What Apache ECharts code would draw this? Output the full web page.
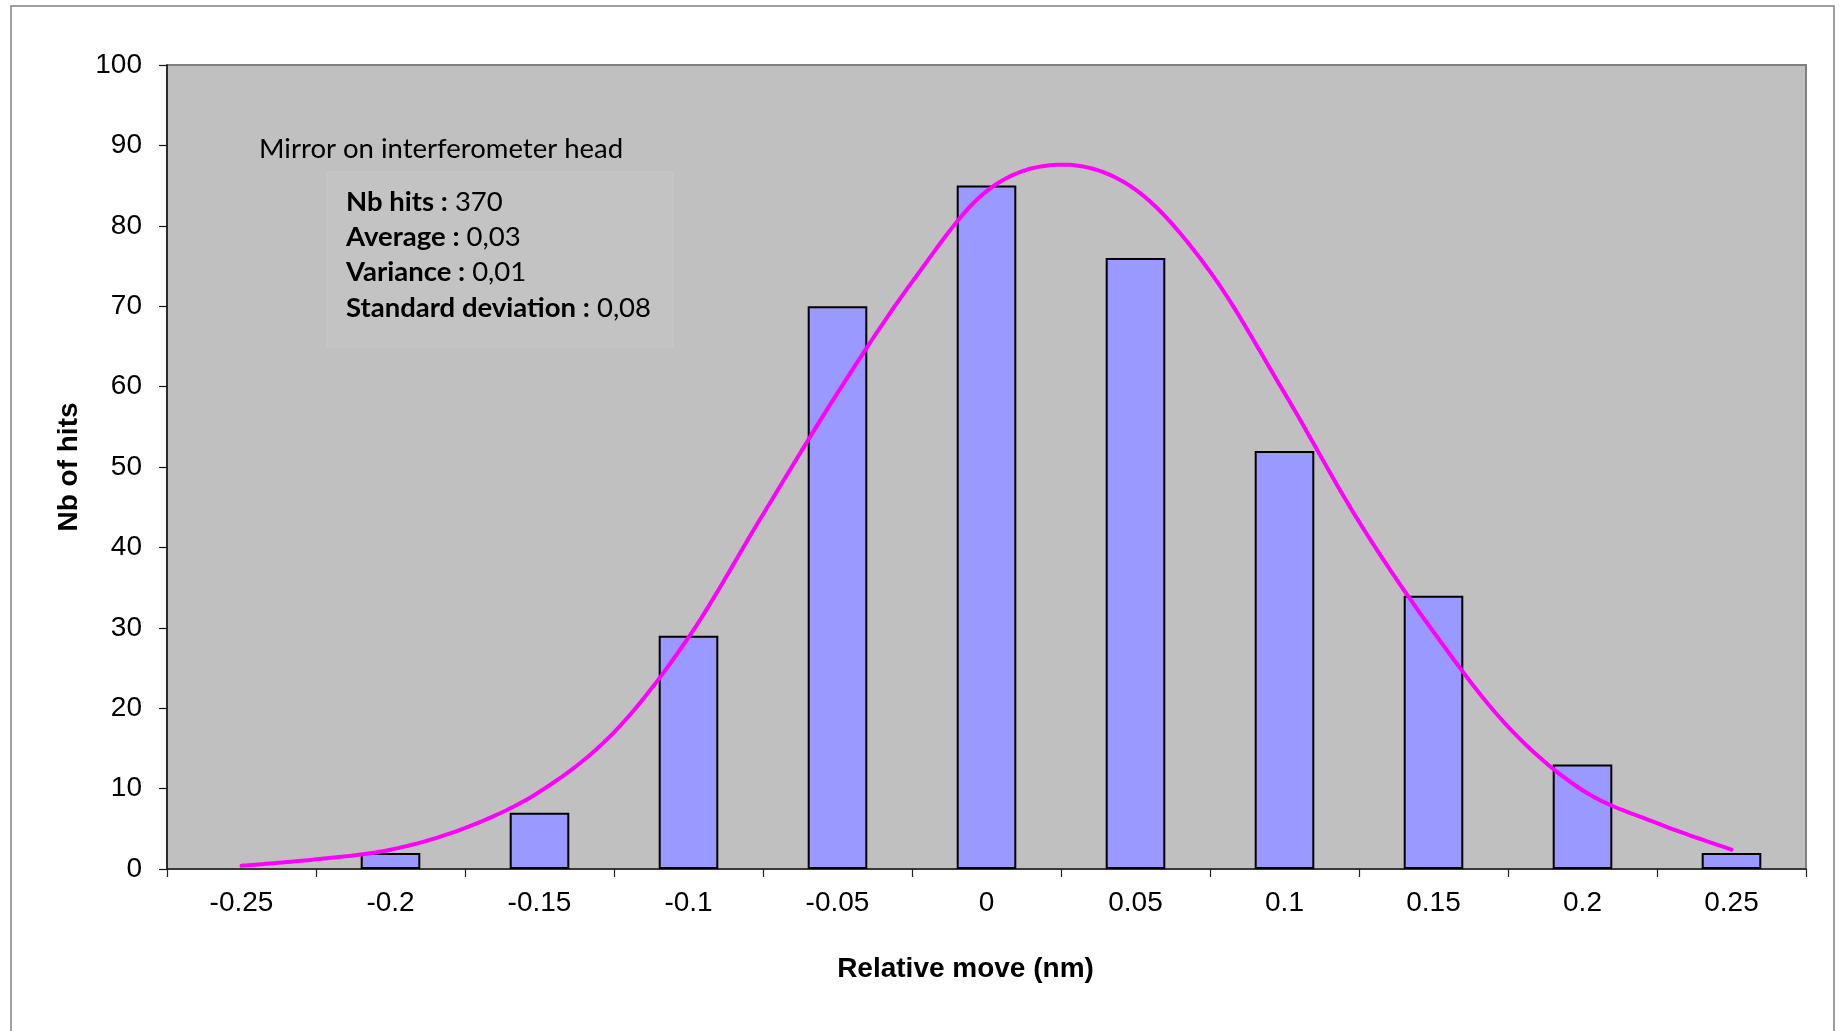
<!DOCTYPE html>
<html><head><meta charset="utf-8">
<script src="https://cdn.jsdelivr.net/npm/echarts@6/dist/echarts.min.js"></script>
<style>html,body{margin:0;padding:0;background:#fff}#c{width:1841px;height:1031px}</style>
</head><body><div id="c"></div>
<script>
// ---- data ----
const categories = ['-0.25','-0.2','-0.15','-0.1','-0.05','0','0.05','0.1','0.15','0.2','0.25'];
const hits = [null, 2, 7, 29, 70, 85, 76, 52, 34, 13, 2];
const curveX = [-0.25,-0.225,-0.2,-0.175,-0.15,-0.125,-0.1,-0.075,-0.05,-0.025,0,0.025,0.05,0.075,0.1,0.125,0.15,0.175,0.2,0.225,0.25];
const curveY = [0.4,1.2,2.4,5.1,9.6,17.0,28.8,44.1,59.2,73.0,84.3,87.6,84.5,74.3,59.2,43.2,29.5,17.7,9.8,5.7,2.4];
const yMin = 0, yMax = 100, yStep = 10;
const xName = 'Relative move (nm)';
const yName = 'Nb of hits';
const titleText = 'Mirror on interferometer head';
const statLabels = ['Nb hits :', 'Average :', 'Variance :', 'Standard deviation :'];
const statValues = ['370', '0,03', '0,01', '0,08'];

const axisFont = 'Liberation Sans, Arial, sans-serif';
const noteFont = 'Lato, Carlito, sans-serif';

const chart = echarts.init(document.getElementById('c'), null, {renderer: 'canvas'});
const curveData = curveX.map((x, i) => [x, curveY[i]]);

// smooth (Catmull-Rom style) curve through the read points, positioned via the axes
function renderCurve(params, api) {
  if (params.dataIndex !== 0) return null;
  const pts = curveData.map(d => api.coord(d));
  const n = pts.length, out = [];
  for (let i = 0; i < n - 1; i++) {
    const p0 = pts[Math.max(i - 1, 0)], p1 = pts[i], p2 = pts[i + 1], p3 = pts[Math.min(i + 2, n - 1)];
    const c1 = [p1[0] + (p2[0] - p0[0]) / 6, p1[1] + (p2[1] - p0[1]) / 6];
    const c2 = [p2[0] - (p3[0] - p1[0]) / 6, p2[1] - (p3[1] - p1[1]) / 6];
    const steps = 20;
    for (let s = 0; s < steps; s++) {
      const t = s / steps, u = 1 - t;
      const a = u * u * u, b = 3 * u * u * t, c = 3 * u * t * t, d = t * t * t;
      out.push([a * p1[0] + b * c1[0] + c * c2[0] + d * p2[0], a * p1[1] + b * c1[1] + c * c2[1] + d * p2[1]]);
    }
  }
  out.push(pts[n - 1]);
  return { type: 'polyline', shape: { points: out }, style: { stroke: '#FF00FF', lineWidth: 4, fill: null, lineCap: 'round', lineJoin: 'round' } };
}

const statGraphics = statLabels.map((lab, i) => ({
  type: 'text', x: 346, y: 202 + i * 35.3, z: 10,
  style: {
    text: '{b|' + lab + '} ' + statValues[i],
    fontFamily: noteFont, fontSize: 27.5, fill: '#000', verticalAlign: 'middle', align: 'left',
    rich: { b: { fontFamily: noteFont, fontSize: 27.5, fontWeight: 'bold', fill: '#000' } }
  }
}));

chart.setOption({
  animation: false,
  backgroundColor: '#ffffff',
  grid: { left: 167, right: 35, top: 65, bottom: 162, show: true, backgroundColor: '#C0C0C0', borderColor: '#808080', borderWidth: 2 },
  xAxis: [{
    type: 'category', data: categories, boundaryGap: true,
    name: xName, nameLocation: 'middle', nameGap: 86,
    nameTextStyle: { fontFamily: axisFont, fontSize: 28, fontWeight: 'bold', color: '#000', padding: [0, 42, 0, 0] },
    axisLine: { onZero: false, lineStyle: { color: '#222', width: 1.5 } },
    axisTick: { show: true, alignWithLabel: false, length: 8, lineStyle: { color: '#222', width: 1.2 } },
    axisLabel: { fontFamily: axisFont, fontSize: 28, color: '#000', margin: 20 },
    splitLine: { show: false }
  }, {
    type: 'value', min: -0.275, max: 0.275, show: false,
    axisLine: { show: false, onZero: false }
  }],
  yAxis: {
    type: 'value', min: yMin, max: yMax, interval: yStep,
    name: yName, nameLocation: 'middle', nameGap: 84,
    nameTextStyle: { fontFamily: axisFont, fontSize: 28, fontWeight: 'bold', color: '#000' },
    axisLine: { show: true, onZero: false, lineStyle: { color: '#111', width: 1.5 } },
    axisTick: { show: true, length: 8, lineStyle: { color: '#111', width: 1.2 } },
    axisLabel: { fontFamily: axisFont, fontSize: 28, color: '#000', margin: 25 },
    splitLine: { show: false }
  },
  series: [{
    type: 'bar', data: hits, xAxisIndex: 0, barWidth: '40%',
    itemStyle: { color: '#9999FF', borderColor: '#000', borderWidth: 2 },
    z: 2
  }, {
    type: 'custom', data: curveData, xAxisIndex: 1, yAxisIndex: 0,
    encode: { x: 0, y: 1 }, renderItem: renderCurve, clip: false,
    z: 3
  }],
  graphic: [
    { type: 'rect', z: -1, silent: true, shape: { x: 11, y: 6, width: 1823, height: 1050 }, style: { fill: 'none', stroke: '#808080', lineWidth: 1.5 } },
    { type: 'rect', z: 1, silent: true, shape: { x: 327, y: 172, width: 346, height: 175 }, style: { fill: '#C3C3C3', stroke: '#C8C8C8', lineWidth: 1 } },
    { type: 'text', x: 259, y: 149, z: 10, style: { text: titleText, fontFamily: noteFont, fontSize: 27.5, fill: '#000', verticalAlign: 'middle', align: 'left' } }
  ].concat(statGraphics)
});
</script>
</body></html>
